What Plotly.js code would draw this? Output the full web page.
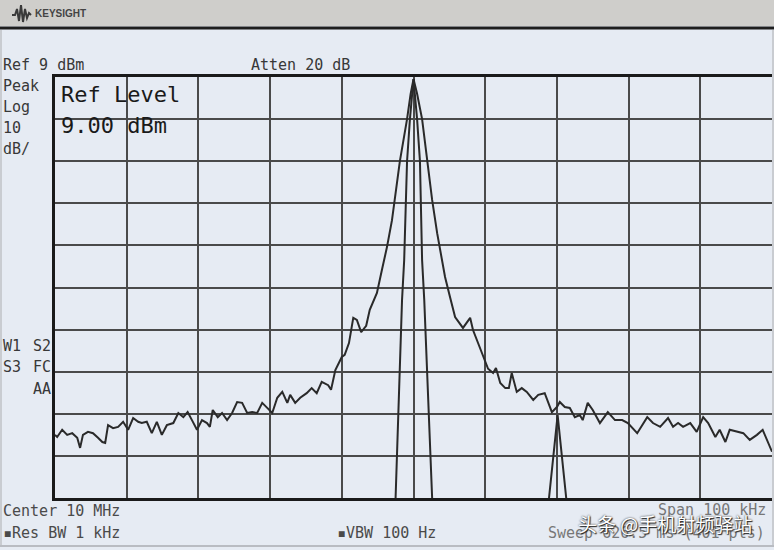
<!DOCTYPE html>
<html><head><meta charset="utf-8">
<script src="https://cdn.plot.ly/plotly-3.0.1.min.js"></script>
<style>html,body{margin:0;padding:0;background:#e6ebf3;}#chart{width:774px;height:550px;}</style>
</head><body><div id="chart"></div>
<script>
// ---- data (offset from 10 MHz centre, in kHz ; level in dBm) ----
const centerMHz = 10;
const spanKHz = 100;
const refLevelDBm = 9;
const dbPerDiv = 10;

const mainOffsetKHz = [-50.0,-49.7,-49.0,-48.3,-47.6,-46.9,-46.5,-46.1,-45.4,-44.7,
  -44.0,-43.4,-43.0,-42.6,-41.9,-41.2,-40.5,-39.8,-39.1,-38.4,
  -37.9,-37.2,-36.5,-35.8,-35.1,-34.4,-33.5,-32.8,-32.1,-31.5,
  -30.9,-30.2,-29.5,-28.8,-28.4,-28.0,-27.3,-26.7,-26.0,-25.3,
  -24.6,-23.9,-23.2,-22.5,-21.8,-21.1,-20.4,-19.7,-19.0,-18.3,
  -17.6,-17.2,-16.5,-15.8,-14.9,-14.2,-13.5,-12.8,-11.9,-11.5,
  -10.9,-10.0,-9.6,-9.0,-8.4,-7.9,-7.3,-6.6,-6.1,-5.1,
  -4.4,-3.7,-3.0,-2.6,-1.9,-0.9,-0.4,0.0,0.5,1.2,
  1.9,2.6,3.3,4.0,4.4,5.1,5.8,6.9,7.9,8.3,
  9.6,10.4,11.1,11.5,12.1,12.8,13.3,13.7,14.4,15.1,
  15.8,16.7,17.4,18.3,19.3,20.0,20.4,21.1,21.8,22.5,
  23.2,23.6,24.3,25.0,26.0,27.1,28.1,29.1,29.9,31.2,
  32.6,33.4,34.4,35.5,36.2,36.9,37.6,38.6,39.5,40.4,
  41.1,42.1,42.7,43.5,44.1,45.1,46.0,46.9,47.9,48.7,
  49.7,50.0];
const mainLevelDBm = [-76.0,-76.5,-74.8,-76.0,-75.6,-76.7,-79.1,-76.0,-75.3,-75.6,
  -76.7,-77.7,-77.9,-73.7,-74.4,-74.1,-72.9,-74.8,-72.0,-72.9,
  -73.2,-72.9,-75.6,-72.9,-76.0,-73.7,-73.2,-70.8,-71.8,-70.6,
  -72.5,-74.8,-72.5,-73.2,-74.1,-70.1,-71.8,-70.8,-72.5,-70.8,
  -68.2,-68.4,-70.8,-70.6,-70.8,-68.4,-69.6,-70.8,-67.2,-65.8,
  -68.4,-66.5,-68.4,-67.2,-66.1,-64.9,-66.1,-63.4,-64.2,-65.3,
  -60.6,-57.5,-57.0,-54.2,-48.2,-48.7,-51.6,-50.1,-46.3,-42.3,
  -36.8,-31.4,-25.0,-20.2,-11.0,-1.0,5.0,8.5,5.0,-1.0,
  -11.0,-20.2,-28.1,-34.5,-38.5,-43.3,-48.0,-50.6,-48.2,-51.1,
  -57.0,-60.3,-61.3,-60.1,-63.7,-64.9,-64.9,-61.3,-65.8,-64.9,
  -65.8,-67.7,-66.5,-66.1,-70.6,-69.4,-68.2,-69.4,-69.6,-71.8,
  -71.3,-72.5,-68.4,-70.1,-73.2,-70.6,-72.5,-72.5,-73.2,-75.6,
  -71.8,-73.2,-74.1,-72.0,-74.1,-73.2,-74.1,-73.2,-75.3,-71.8,
  -73.2,-76.5,-74.8,-77.7,-74.8,-75.3,-75.6,-77.2,-76.0,-74.8,
  -79.1,-80.0];

const narrowOffsetKHz = [-50,-3.0,-2.5,-1.6,-1.3,-0.9,-0.5,0.0,0.5,0.9,1.2,1.5,2.6,3.1,18.4,18.9,20.1,21.3,21.8,50];
const narrowLevelDBm  = [-120,-120,-91,-44,-34.5,-11,-1,8.5,-1,-11,-34.5,-44,-91,-120,-120,-91,-71.3,-91,-120,-120];

// ---- texts ----
const headerTexts = ["Ref 9 dBm", "Atten 20 dB"];
const leftTexts = ["Peak", "Log", "10", "dB/"];
const bigTexts = ["Ref Level", "9.00 dBm"];
const statusLeft = ["W1", "S3"];
const statusRight = ["S2", "FC", "AA"];
const footerLeft = ["Center 10 MHz", "\u25AARes BW 1 kHz"];
const footerMid = "\u25AAVBW 100 Hz";
const footerRight = ["Span 100 kHz", "Sweep 626.5 ms (401 pts)"];
const brand = "KEYSIGHT";
const watermark = "头条 @手机射频驿站";

// ---- geometry helpers (pixel -> paper) ----
const W = 774, H = 550, L = 55, R = 772, T = 77, B = 498;
const px = x => (x - L) / (R - L);
const py = y => (B - y) / (B - T);

const mono = "DejaVu Sans Mono, monospace";
const txt = "#383838";
function ann(text, x, y, opts) {
  return Object.assign({
    text: text, x: px(x), y: py(y), xref: "paper", yref: "paper",
    xanchor: "left", yanchor: "middle", showarrow: false,
    font: {family: mono, size: 15, color: txt}
  }, opts || {});
}

const annotations = [];
annotations.push(ann(headerTexts[0], 1, 65));
annotations.push(ann(headerTexts[1], 249, 65));
[86, 107, 128, 149].forEach((y, i) => annotations.push(ann(leftTexts[i], 1, y)));
annotations.push(ann(bigTexts[0], 59, 94, {font: {family: mono, size: 22, color: "#1a1a1a"}}));
annotations.push(ann(bigTexts[1], 59, 125, {font: {family: mono, size: 22, color: "#1a1a1a"}}));
annotations.push(ann(statusLeft[0], 1, 346));
annotations.push(ann(statusLeft[1], 1, 367));
[346, 367, 389].forEach((y, i) => annotations.push(ann(statusRight[i], 53, y, {xanchor: "right"})));
annotations.push(ann(footerLeft[0], 1, 511, {font: {family: mono, size: 15, color: "#4a4a4a"}}));
annotations.push(ann(footerLeft[1], 1, 533, {font: {family: mono, size: 15, color: "#4a4a4a"}}));
annotations.push(ann(footerMid, 335, 533, {font: {family: mono, size: 15, color: "#4a4a4a"}}));
annotations.push(ann(footerRight[0], 768, 510, {xanchor: "right", font: {family: mono, size: 15, color: "#777"}}));
annotations.push(ann(footerRight[1], 767, 533, {xanchor: "right", font: {family: mono, size: 15, color: "#777"}}));
annotations.push(ann(brand, 33, 14, {font: {family: "Liberation Sans, Arial, sans-serif", size: 10, color: "#444", weight: "bold"}}));
annotations.push(ann(watermark, 576, 523, {font: {family: "Noto Sans CJK SC, sans-serif", size: 19, color: "#ffffff",
  shadow: "0 0 2px #222, 1px 1px 1px #222"}}));

// logo waveform path
const logoPts = [[12,15],[15,15],[17,9],[19,21],[21,5],[23,22],[25,9],[27,18],[29,13],[31,15]];
const logoPath = "M" + logoPts.map(p => px(p[0]) + "," + py(p[1])).join(" L");

const shapes = [
  {type: "rect", xref: "paper", yref: "paper", x0: px(0), x1: px(W), y0: py(0), y1: py(26),
   fillcolor: "#cfcecb", line: {width: 0}, layer: "below"},
  {type: "line", xref: "paper", yref: "paper", x0: px(0), x1: px(W), y0: py(28), y1: py(28),
   line: {color: "#1e1e1e", width: 3}},
  {type: "line", xref: "paper", yref: "paper", x0: px(1), x1: px(1), y0: py(30), y1: py(546),
   line: {color: "#c9ccd1", width: 2}},
  {type: "line", xref: "paper", yref: "paper", x0: px(773), x1: px(773), y0: py(30), y1: py(546),
   line: {color: "#c9ccd1", width: 2}},
  {type: "line", xref: "paper", yref: "paper", x0: px(0), x1: px(W), y0: py(546), y1: py(546),
   line: {color: "#b9bcc2", width: 2}},
  {type: "path", xref: "paper", yref: "paper", path: logoPath, line: {color: "#3a3a3a", width: 2}}
];

const traces = [
  {x: mainOffsetKHz, y: mainLevelDBm, type: "scatter", mode: "lines",
   line: {color: "#2a2a2a", width: 2}, hoverinfo: "skip"},
  {x: narrowOffsetKHz, y: narrowLevelDBm, type: "scatter", mode: "lines",
   line: {color: "#2a2a2a", width: 2}, hoverinfo: "skip"}
];

const bottom = refLevelDBm - 10 * dbPerDiv;
const layout = {
  width: W, height: H,
  margin: {l: L, r: W - R, t: T, b: H - B, pad: 0},
  paper_bgcolor: "#e6ebf3", plot_bgcolor: "#e6ebf3",
  showlegend: false,
  xaxis: {range: [-spanKHz / 2, spanKHz / 2], tick0: 0, dtick: spanKHz / 10, showgrid: true,
          gridcolor: "#4a4a4a", gridwidth: 2, zeroline: false, showticklabels: false, ticks: "",
          showline: true, mirror: true, linecolor: "#1a1a1a", linewidth: 3, fixedrange: true},
  yaxis: {range: [bottom, refLevelDBm], tick0: refLevelDBm, dtick: dbPerDiv, showgrid: true,
          gridcolor: "#4a4a4a", gridwidth: 2, zeroline: false, showticklabels: false, ticks: "",
          showline: true, mirror: true, linecolor: "#1a1a1a", linewidth: 3, fixedrange: true},
  annotations: annotations,
  shapes: shapes
};

Plotly.newPlot("chart", traces, layout, {staticPlot: true, displayModeBar: false});
</script>
</body></html>
